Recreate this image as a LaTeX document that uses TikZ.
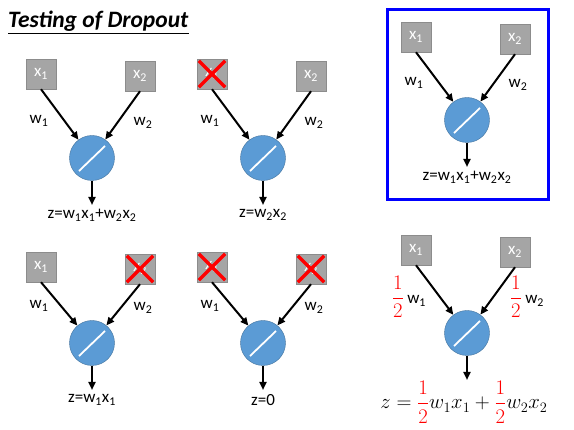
\documentclass[tikz,border=0pt]{standalone}
\usepackage{amsmath}
\usepackage{fontspec}
\setmainfont{Carlito}
\usetikzlibrary{arrows.meta, positioning, calc}

\definecolor{boxgray}{HTML}{A5A5A5}
\definecolor{boxedge}{HTML}{8C8C8C}
\definecolor{cellblue}{HTML}{5B9BD5}
\definecolor{celledge}{HTML}{41719C}

\tikzset{
  inbox/.style={draw=boxedge, fill=boxgray, minimum size=30pt, inner sep=0pt, text=white, font=\fontsize{17}{17}\selectfont},
  cell/.style={circle, draw=celledge, fill=cellblue, minimum size=45pt, inner sep=0pt},
  arr/.style={-{Triangle[length=8pt,width=7pt]}, line width=2pt},
  wlab/.style={font=\fontsize{17}{17}\selectfont},
  drop/.style={red, line width=3.5pt},
}

\begin{document}
\begin{tikzpicture}[x=1pt, y=-1pt]
	\useasboundingbox (0,0) rectangle (574,430);
	
	% Title
	\node[anchor=base west, inner sep=0pt, font=\fontsize{23.5}{24}\selectfont\bfseries\itshape] (title) at (8,28) {Testing of Dropout};
	\draw[line width=1.8pt] ([yshift=-5.5pt]title.base west) -- ([yshift=-5.5pt]title.base east);
	
	% Neurons with two inputs
	\foreach \p/\cx/\cy/\dy in {a/92/158/84, b/263/158/84, c/467/120/83, d/92/343/76, e/263/343/76, f/467/333/83} {
		\node[cell] (n-\p) at (\cx,\cy) {};
		\draw[white, line width=1.8pt] ([shift={(-13,13)}]n-\p.center) -- ([shift={(13,-12)}]n-\p.center);
		\node[inbox] (x1-\p) at (\cx-51,\cy-\dy) {x\textsubscript{1}};
		\node[inbox] (x2-\p) at (\cx+48,\cy-\dy+2) {x\textsubscript{2}};
		\draw[arr] (x1-\p.south) -- (n-\p);
		\draw[arr] (x2-\p.south) -- (n-\p);
		\coordinate (out-\p) at (\cx,\cy+47);
		\draw[arr] (n-\p) -- (out-\p);
	}
	
	% Weights
	\foreach \p in {a,b,c,d,e} {
		\node[wlab] (w1-\p) at ([shift={(-53,-37)}]n-\p.center) {w\textsubscript{1}};
		\node[wlab] (w2-\p) at ([shift={(51,-35)}]n-\p.center) {w\textsubscript{2}};
	}
	\node[wlab] (w1-f) at ([shift={(-58,-36)}]n-f.center) {\fontsize{20}{20}\selectfont\textcolor{red}{$\dfrac{1}{2}$}\,\fontsize{17}{17}\selectfont w\textsubscript{1}};
	\node[wlab] (w2-f) at ([shift={(60,-36)}]n-f.center) {\fontsize{20}{20}\selectfont\textcolor{red}{$\dfrac{1}{2}$}\,\fontsize{17}{17}\selectfont w\textsubscript{2}};
	
	% Dropped inputs
	\foreach \b in {x1-b, x2-d, x1-e, x2-e} {
		\draw[drop] ([shift={(2,2)}]\b.north west) -- ([shift={(-2,-2)}]\b.south east);
		\draw[drop] ([shift={(-2,2)}]\b.north east) -- ([shift={(2,-2)}]\b.south west);
	}
	
	% Outputs
	\node[wlab, below=1pt of out-a] (z-a) {z=w\textsubscript{1}x\textsubscript{1}+w\textsubscript{2}x\textsubscript{2}};
	\node[wlab, below=1pt of out-b] (z-b) {z=w\textsubscript{2}x\textsubscript{2}};
	\node[wlab, below=1pt of out-c] (z-c) {z=w\textsubscript{1}x\textsubscript{1}+w\textsubscript{2}x\textsubscript{2}};
	\node[wlab, below=1pt of out-d] (z-d) {z=w\textsubscript{1}x\textsubscript{1}};
	\node[wlab, below=1pt of out-e] (z-e) {z=0};
	\node[below=-2pt of out-f, xshift=-3pt, font=\fontsize{20.5}{21}\selectfont] (z-f) {$z=\textcolor{red}{\dfrac{1}{2}}w_1x_1+\textcolor{red}{\dfrac{1}{2}}w_2x_2$};
	
	% Frame of the test neuron
	\draw[blue, line width=3pt] (387,10) rectangle (548,200);
\end{tikzpicture}
\end{document}
